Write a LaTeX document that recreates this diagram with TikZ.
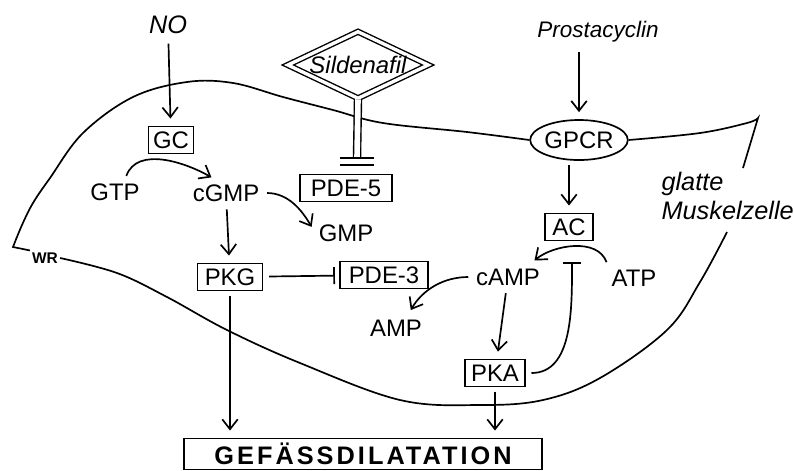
\documentclass[tikz,border=0pt]{standalone}
\usepackage{fontspec}
\setmainfont{Liberation Sans}
\usetikzlibrary{arrows.meta}
\usetikzlibrary{shapes}

\begin{document}
\begin{tikzpicture}[x=0.025cm,y=0.025cm,line width=1.2pt,
  font=\fontsize{17}{19}\selectfont,
  txt/.style={inner sep=2pt},
  box/.style={draw,minimum height=0.68cm,inner sep=2pt},
  pfeil/.style={-{Straight Barb[length=7pt,width=11pt]},shorten <=3pt,shorten >=5pt},
  hemm/.style={-{Bar[width=12pt]},shorten <=4pt},
  dbl/.style={double,double distance=4pt,line width=1pt}]
\useasboundingbox (0,0) rectangle (794,-470);

\node[ellipse,draw,minimum width=1.95cm,minimum height=1cm,inner sep=0pt] (gpcr) at (579,-140) {GPCR};
\node[inner sep=1pt,font=\fontsize{11}{11}\selectfont\bfseries] (wr) at (45,-258) {WR};
\draw (wr.north west) -- plot[smooth,tension=0.6] coordinates {(13,-247) (22,-225) (33,-203) (50,-178) (83,-133) (133,-97) (187,-82) (233,-83) (283,-97) (333,-110) (383,-123) (467,-132) (gpcr.west)};
\draw plot[smooth,tension=0.6] coordinates {(gpcr.east) (700,-133) (747,-123) (758,-118)} -- (743,-168);
\draw plot[smooth,tension=0.6] coordinates {(727,-232) (700,-282) (667,-330) (600,-378) (543,-400) (480,-405) (400,-400) (300,-363) (227,-330) (167,-297) (117,-273) (wr.east)};

\node[font=\fontsize{18}{18}\selectfont\itshape] (no) at (168,-25) {NO};
\node[font=\fontsize{16}{18}\selectfont\itshape] (pro) at (598,-32) {Prostacyclin};
\node[align=left,anchor=west,font=\fontsize{18}{21}\selectfont\itshape] (gmz) at (656,-196) {glatte\\Muskelzelle};
\foreach \n/\x/\y/\t in {gtp/115/192/GTP, cgmp/226/193/cGMP, gmp/346/233/GMP, camp/508/277/cAMP, atp/634/278/ATP, amp/396/328/AMP}
  \node[txt] (\n) at (\x,-\y) {\t};
\foreach \n/\x/\y/\t/\w in {gc/171/140/GC/1.13, pde5/346/188/PDE-5/2.3, pkg/230/277/PKG/1.63, pde3/384/275/PDE-3/2.2, ac/569/227/AC/1.2, pka/495/373/PKA/1.5}
  \node[box,minimum width=\w cm] (\n) at (\x,-\y) {\t};
\node[box,minimum width=8.95cm,minimum height=0.78cm,font=\fontsize{18}{20}\selectfont\bfseries\addfontfeature{LetterSpace=12}] (gef) at (363,-454) {GEFÄSSDILATATION};

\node[diamond,draw,dbl,double distance=2.4pt,aspect=2.1,inner xsep=0pt,inner ysep=1.2pt,font=\fontsize{17}{17}\selectfont\itshape] (sil) at (358,-65) {Sildenafil};
\coordinate (sb) at (357,-158);
\draw[dbl] (sil.south) -- (sb);
\draw (sb) ++(-17,0) -- ++(34,0);
\draw[line width=1.6pt] (sb) ++(-17,-7) -- ++(34,0);

\draw[pfeil] (no) -- (gc);
\draw[pfeil] ([xshift=7pt]gtp.north) to[out=70,in=150] ([xshift=-6pt]cgmp.north);
\draw[pfeil] (cgmp.east) to[out=0,in=120] (gmp.west);
\draw[pfeil] (cgmp) -- (pkg);
\draw[hemm,shorten >=3pt] (pkg) -- (pde3);
\draw[pfeil] (pkg.south) -- (pkg.south |- gef.north);
\draw[pfeil] (pro.south -| gpcr.north) -- (gpcr.north);
\draw[pfeil] (gpcr.south -| ac.north) -- (ac.north);
\draw[pfeil] (atp.north west) to[out=110,in=40] ([xshift=15pt]camp.north);
\coordinate (hk) at (572,-262);
\draw[hemm,-{Bar[width=13pt]}] (pka.east) to[out=0,in=-90] (hk);
\draw[pfeil] (camp.west) to[out=180,in=60] ([xshift=8pt]amp.north);
\draw[pfeil] (camp) -- (pka);
\draw[pfeil] (pka.south) -- (pka.south |- gef.north);
\end{tikzpicture}
\end{document}
